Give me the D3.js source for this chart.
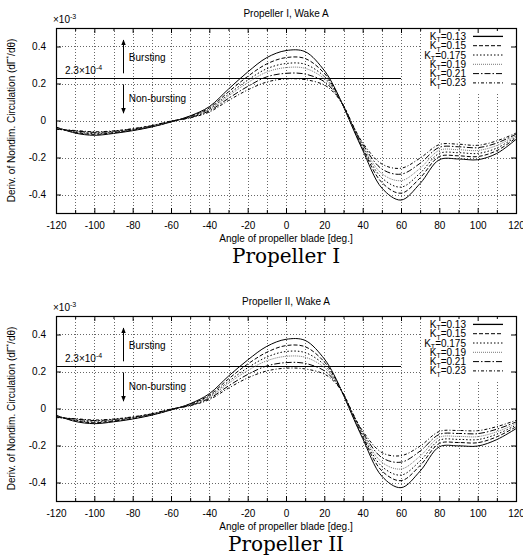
<!DOCTYPE html>
<html>
<head>
<meta charset="utf-8">
<script src="https://cdn.jsdelivr.net/npm/d3@7"></script>
<style>
  body { margin: 0; background: #fff; }
  text { font-family: "Liberation Sans", Arial, sans-serif; fill: #000; }
</style>
</head>
<body>
<div id="chart"></div>
<script>

// angles of the blade (deg.)
var angles = [-120,-110,-100,-90,-80,-70,-60,-50,-40,-30,-20,-10,0,10,20,25,30,35,40,50,60,70,80,90,100,110,120];
var ktLabels = ["0.13","0.15","0.175","0.19","0.21","0.23"];
var xTicks = [-120,-100,-80,-60,-40,-20,0,20,40,60,80,100,120];
var xGrid = [-110,-100,-90,-80,-70,-60,-50,-40,-30,-20,-10,0,10,20,30,40,50,60,70,80,90,100,110];
var yTicks = [-0.4,-0.2,0,0.2,0.4];
var threshold = 0.23;
var panelTitles = ["Propeller I, Wake A", "Propeller II, Wake A"];
var captions = ["Propeller I", "Propeller II"];

// Propeller I  (x10^-3)
var p1_013  = [-0.035,-0.068,-0.080,-0.070,-0.055,-0.035,-0.008,0.025,0.075,0.170,0.262,0.340,0.378,0.372,0.270,0.185,0.075,-0.045,-0.160,-0.365,-0.430,-0.340,-0.212,-0.208,-0.212,-0.178,-0.102];
var p1_015  = [-0.038,-0.064,-0.075,-0.066,-0.052,-0.033,-0.007,0.022,0.068,0.155,0.238,0.306,0.340,0.335,0.255,0.178,0.077,-0.040,-0.150,-0.335,-0.393,-0.310,-0.195,-0.191,-0.195,-0.163,-0.094];
var p1_0175 = [-0.041,-0.061,-0.071,-0.063,-0.050,-0.031,-0.006,0.020,0.062,0.142,0.218,0.280,0.308,0.304,0.238,0.170,0.078,-0.036,-0.142,-0.310,-0.360,-0.284,-0.178,-0.174,-0.178,-0.149,-0.087];
var p1_019  = [-0.043,-0.059,-0.068,-0.061,-0.048,-0.030,-0.005,0.018,0.058,0.133,0.204,0.262,0.286,0.282,0.226,0.165,0.079,-0.033,-0.136,-0.287,-0.325,-0.258,-0.161,-0.158,-0.162,-0.135,-0.080];
var p1_021  = [-0.046,-0.056,-0.064,-0.058,-0.046,-0.028,-0.004,0.016,0.052,0.120,0.184,0.236,0.255,0.251,0.210,0.158,0.080,-0.030,-0.128,-0.262,-0.290,-0.231,-0.145,-0.142,-0.147,-0.122,-0.074];
var p1_023  = [-0.048,-0.054,-0.061,-0.056,-0.044,-0.027,-0.003,0.014,0.046,0.108,0.165,0.208,0.225,0.221,0.192,0.150,0.080,-0.027,-0.120,-0.235,-0.258,-0.203,-0.130,-0.128,-0.134,-0.110,-0.068];

// Propeller II  (x10^-3)
var p2_013  = [-0.036,-0.070,-0.082,-0.072,-0.057,-0.036,-0.008,0.026,0.080,0.175,0.262,0.336,0.374,0.368,0.268,0.183,0.072,-0.048,-0.162,-0.366,-0.428,-0.338,-0.207,-0.202,-0.203,-0.168,-0.109];
var p2_015  = [-0.039,-0.066,-0.077,-0.068,-0.054,-0.034,-0.007,0.023,0.072,0.160,0.240,0.304,0.340,0.334,0.252,0.176,0.074,-0.043,-0.152,-0.337,-0.390,-0.308,-0.189,-0.184,-0.185,-0.153,-0.099];
var p2_0175 = [-0.042,-0.063,-0.073,-0.065,-0.051,-0.032,-0.006,0.021,0.066,0.146,0.220,0.278,0.308,0.302,0.236,0.168,0.075,-0.039,-0.144,-0.313,-0.360,-0.283,-0.172,-0.167,-0.168,-0.139,-0.090];
var p2_019  = [-0.044,-0.060,-0.069,-0.062,-0.049,-0.031,-0.005,0.019,0.060,0.136,0.205,0.258,0.282,0.277,0.222,0.162,0.076,-0.036,-0.137,-0.290,-0.327,-0.257,-0.156,-0.151,-0.152,-0.126,-0.082];
var p2_021  = [-0.047,-0.057,-0.065,-0.059,-0.047,-0.029,-0.004,0.017,0.054,0.122,0.184,0.230,0.248,0.244,0.204,0.155,0.077,-0.032,-0.129,-0.265,-0.290,-0.230,-0.140,-0.135,-0.136,-0.112,-0.073];
var p2_023  = [-0.049,-0.055,-0.062,-0.057,-0.045,-0.028,-0.003,0.015,0.048,0.110,0.165,0.203,0.218,0.214,0.186,0.147,0.078,-0.029,-0.121,-0.238,-0.255,-0.203,-0.124,-0.119,-0.120,-0.098,-0.064];

var panels = [
  [p1_013, p1_015, p1_0175, p1_019, p1_021, p1_023],
  [p2_013, p2_015, p2_0175, p2_019, p2_021, p2_023]
];

// line styles for each K_T (gnuplot-like)
var dashes = ["none", "4,2", "1.5,2", "1,1", "6,2,1.5,2", "3,2,1,2"];
var colors = ["#000", "#000", "#000", "#777", "#000", "#000"];

var W = 523, H = 556;
var margin = {top: 28, left: 56},
    width = 460,
    height = 185;
var panelStep = 288;

var svg = d3.select("#chart")
  .append("svg")
    .attr("width", W)
    .attr("height", H);

svg.append("defs").append("marker")
    .attr("id", "arr")
    .attr("viewBox", "0 0 10 10")
    .attr("refX", 9).attr("refY", 5)
    .attr("markerWidth", 6).attr("markerHeight", 6)
    .attr("markerUnits", "userSpaceOnUse")
    .attr("orient", "auto")
  .append("path")
    .attr("d", "M0,1 L10,5 L0,9 Z")
    .attr("fill", "#000");

var x = d3.scaleLinear().domain([-120, 120]).range([0, width]);
var y = d3.scaleLinear().domain([-0.5, 0.5]).range([height, 0]);
function px(v) { return Math.round(v) + 0.5; }

panels.forEach(function(series, p) {

  var g = svg.append("g")
    .attr("transform", "translate(" + margin.left + "," + (margin.top + p * panelStep) + ")");

  // grid
  g.selectAll(".vgrid")
    .data(xGrid)
    .enter().append("line")
      .attr("x1", function(d) { return px(x(d)); })
      .attr("x2", function(d) { return px(x(d)); })
      .attr("y1", 0).attr("y2", height)
      .attr("stroke", "#666")
      .attr("stroke-width", 1)
      .attr("stroke-dasharray", "1,2");
  g.selectAll(".hgrid")
    .data(yTicks)
    .enter().append("line")
      .attr("x1", 0).attr("x2", width)
      .attr("y1", function(d) { return px(y(d)); })
      .attr("y2", function(d) { return px(y(d)); })
      .attr("stroke", "#666")
      .attr("stroke-width", 1)
      .attr("stroke-dasharray", "1,2");

  // threshold line 2.3e-4
  g.append("line")
    .attr("x1", x(-120)).attr("x2", x(60))
    .attr("y1", px(y(threshold))).attr("y2", px(y(threshold)))
    .attr("stroke", "#000")
    .attr("stroke-width", 1.1);

  var th = g.append("text")
    .attr("x", x(-115.3))
    .attr("y", y(threshold) - 4)
    .style("font-size", "10px");
  th.append("tspan").text("2.3\u00d710");
  th.append("tspan").attr("dy", -4).style("font-size", "7px").text("-4");

  // arrows
  g.append("line")
    .attr("x1", px(x(-85))).attr("x2", px(x(-85)))
    .attr("y1", y(0.255)).attr("y2", y(0.435))
    .attr("stroke", "#000").attr("stroke-width", 1)
    .attr("marker-end", "url(#arr)");
  g.append("line")
    .attr("x1", px(x(-85))).attr("x2", px(x(-85)))
    .attr("y1", y(0.195)).attr("y2", y(0.04))
    .attr("stroke", "#000").attr("stroke-width", 1)
    .attr("marker-end", "url(#arr)");
  g.append("text")
    .attr("x", x(-82)).attr("y", y(0.34) + 3.5)
    .style("font-size", "10px")
    .text("Bursting");
  g.append("text")
    .attr("x", x(-82)).attr("y", y(0.12) + 3.5)
    .style("font-size", "10px")
    .text("Non-bursting");

  // curves
  var line = d3.line()
    .x(function(d, i) { return x(angles[i]); })
    .y(function(d) { return y(d); })
    .curve(d3.curveCatmullRom.alpha(0.5));

  series.forEach(function(vals, k) {
    g.append("path")
      .datum(vals)
      .attr("fill", "none")
      .attr("stroke", colors[k])
      .attr("stroke-width", 1)
      .attr("stroke-dasharray", dashes[k])
      .attr("d", line);
  });

  // legend box
  g.append("rect")
    .attr("x", 366).attr("y", 1)
    .attr("width", 93).attr("height", 63)
    .attr("fill", "#fff");

  ktLabels.forEach(function(kt, k) {
    var ly = 8.4 + k * 9.3;
    var t = g.append("text")
      .attr("x", 410).attr("y", ly + 3.5)
      .attr("text-anchor", "end")
      .style("font-size", "10px");
    t.append("tspan").text("K");
    t.append("tspan").attr("dy", 2.5).style("font-size", "7px").text("T");
    t.append("tspan").attr("dy", -2.5).text("=" + kt);
    g.append("line")
      .attr("x1", 417).attr("x2", 447)
      .attr("y1", ly).attr("y2", ly)
      .attr("stroke", colors[k])
      .attr("stroke-width", k === 0 ? 1.3 : 1)
      .attr("stroke-dasharray", dashes[k]);
  });

  // axes: ticks on all four sides, pointing inward
  var minorX = xGrid.filter(function(d) { return d % 20 !== 0; });
  g.append("g")
    .attr("transform", "translate(0," + height + ")")
    .call(d3.axisBottom(x).tickValues(xTicks).tickSize(-5).tickPadding(9)
      .tickFormat(function(d) { return String(d); }))
    .call(function(s) { s.select(".domain").remove(); });
  g.append("g")
    .attr("transform", "translate(0," + height + ")")
    .call(d3.axisBottom(x).tickValues(minorX).tickSize(-3).tickFormat(""))
    .call(function(s) { s.select(".domain").remove(); });
  g.append("g")
    .call(d3.axisTop(x).tickValues(xTicks).tickSize(-5).tickFormat(""))
    .call(function(s) { s.select(".domain").remove(); });
  g.append("g")
    .call(d3.axisTop(x).tickValues(minorX).tickSize(-3).tickFormat(""))
    .call(function(s) { s.select(".domain").remove(); });
  g.append("g")
    .call(d3.axisLeft(y).tickValues(yTicks).tickSize(-5).tickPadding(10)
      .tickFormat(function(d) { return d === 0 ? "0" : d.toFixed(1); }))
    .call(function(s) { s.select(".domain").remove(); });
  g.append("g")
    .attr("transform", "translate(" + width + ",0)")
    .call(d3.axisRight(y).tickValues(yTicks).tickSize(-5).tickFormat(""))
    .call(function(s) { s.select(".domain").remove(); });

  g.selectAll(".tick text")
    .style("font-size", "10px")
    .style("font-family", "'Liberation Sans', Arial, sans-serif");
  g.selectAll(".tick line").attr("stroke", "#000");

  // frame
  g.append("rect")
    .attr("x", 0.5).attr("y", 0.5)
    .attr("width", width).attr("height", height)
    .attr("fill", "none")
    .attr("stroke", "#000")
    .attr("stroke-width", 1.2);

  // x10^-3
  var mult = g.append("text")
    .attr("x", -3).attr("y", -5)
    .style("font-size", "10px");
  mult.append("tspan").text("\u00d710");
  mult.append("tspan").attr("dy", -4).style("font-size", "7px").text("-3");

  // title
  g.append("text")
    .attr("x", width / 2).attr("y", -11)
    .attr("text-anchor", "middle")
    .style("font-size", "10px")
    .text(panelTitles[p]);

  // x label
  g.append("text")
    .attr("x", width / 2).attr("y", height + 29)
    .attr("text-anchor", "middle")
    .style("font-size", "10px")
    .text("Angle of propeller blade [deg.]");

  // y label
  var yl = g.append("text")
    .attr("transform", "rotate(-90)")
    .attr("x", -height / 2).attr("y", -41)
    .attr("text-anchor", "middle")
    .style("font-size", "10px");
  yl.append("tspan").text("Deriv. of Nondim. Circulation (d\u0393");
  yl.append("tspan").attr("dy", -4).style("font-size", "7px").text("*");
  yl.append("tspan").attr("dy", 4).text("/d\u03b8)");

  // caption
  g.append("text")
    .attr("x", width / 2).attr("y", height + 50)
    .attr("text-anchor", "middle")
    .style("font-family", "'DejaVu Serif', serif")
    .style("font-size", "20px")
    .text(captions[p]);
});

</script>
</body>
</html>
